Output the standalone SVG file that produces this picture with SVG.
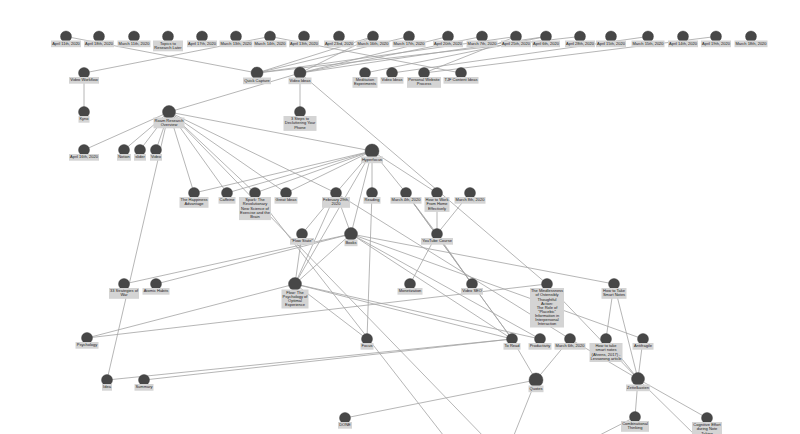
<svg xmlns="http://www.w3.org/2000/svg" width="800" height="434" viewBox="0 0 800 434">
<style>
.e line{stroke:#a3a3a3;stroke-width:0.8;fill:none}
.n circle{fill:#474747;stroke:#3a3a3a;stroke-width:0.4}
.n rect{fill:#d4d4d4}
.n text{font-family:"Liberation Sans",Arial,sans-serif;font-size:4px;fill:#1a1a1a;text-anchor:middle}
</style>
<rect width="800" height="434" fill="#ffffff"/>
<g id="connectors" class="e">
<line x1="66" y1="36.5" x2="257" y2="73"/>
<line x1="84" y1="73" x2="270" y2="36.5"/>
<line x1="84" y1="73" x2="84" y2="112"/>
<line x1="300" y1="73" x2="300" y2="112"/>
<line x1="169" y1="112" x2="300" y2="73"/>
<line x1="300" y1="73" x2="547" y2="284"/>
<line x1="169" y1="112" x2="372" y2="151"/>
<line x1="169" y1="112" x2="84" y2="150"/>
<line x1="169" y1="112" x2="124" y2="150"/>
<line x1="169" y1="112" x2="140" y2="150"/>
<line x1="169" y1="112" x2="156" y2="150"/>
<line x1="169" y1="112" x2="107" y2="380"/>
<line x1="169" y1="112" x2="194" y2="193"/>
<line x1="169" y1="112" x2="227" y2="193"/>
<line x1="169" y1="112" x2="255" y2="193"/>
<line x1="169" y1="112" x2="286" y2="193"/>
<line x1="169" y1="112" x2="336" y2="193"/>
<line x1="169" y1="112" x2="487" y2="440"/>
<line x1="372" y1="151" x2="194" y2="193"/>
<line x1="372" y1="151" x2="227" y2="193"/>
<line x1="372" y1="151" x2="255" y2="193"/>
<line x1="372" y1="151" x2="286" y2="193"/>
<line x1="372" y1="151" x2="336" y2="193"/>
<line x1="372" y1="151" x2="372" y2="193"/>
<line x1="372" y1="151" x2="406" y2="193"/>
<line x1="372" y1="151" x2="437" y2="193"/>
<line x1="372" y1="151" x2="351" y2="234"/>
<line x1="372" y1="151" x2="295" y2="284"/>
<line x1="336" y1="193" x2="302" y2="234"/>
<line x1="336" y1="193" x2="351" y2="234"/>
<line x1="336" y1="193" x2="295" y2="284"/>
<line x1="336" y1="193" x2="570" y2="339"/>
<line x1="372" y1="193" x2="367" y2="339"/>
<line x1="406" y1="193" x2="437" y2="234"/>
<line x1="406" y1="193" x2="472" y2="284"/>
<line x1="406" y1="193" x2="512" y2="339"/>
<line x1="437" y1="193" x2="437" y2="234"/>
<line x1="470" y1="193" x2="437" y2="234"/>
<line x1="437" y1="234" x2="410" y2="284"/>
<line x1="437" y1="234" x2="472" y2="284"/>
<line x1="472" y1="284" x2="512" y2="339"/>
<line x1="351" y1="234" x2="124" y2="284"/>
<line x1="351" y1="234" x2="156" y2="284"/>
<line x1="351" y1="234" x2="295" y2="284"/>
<line x1="351" y1="234" x2="614" y2="284"/>
<line x1="351" y1="234" x2="643" y2="339"/>
<line x1="351" y1="234" x2="512" y2="339"/>
<line x1="351" y1="234" x2="540" y2="339"/>
<line x1="302" y1="234" x2="295" y2="284"/>
<line x1="295" y1="284" x2="87" y2="338"/>
<line x1="295" y1="284" x2="367" y2="339"/>
<line x1="295" y1="284" x2="512" y2="339"/>
<line x1="295" y1="284" x2="540" y2="339"/>
<line x1="87" y1="338" x2="547" y2="284"/>
<line x1="255" y1="193" x2="447" y2="440"/>
<line x1="107" y1="380" x2="512" y2="339"/>
<line x1="144" y1="380" x2="512" y2="339"/>
<line x1="345" y1="418" x2="536" y2="380"/>
<line x1="536" y1="380" x2="512" y2="339"/>
<line x1="536" y1="380" x2="570" y2="339"/>
<line x1="536" y1="380" x2="512" y2="440"/>
<line x1="614" y1="284" x2="606" y2="339"/>
<line x1="614" y1="284" x2="638" y2="379"/>
<line x1="643" y1="339" x2="638" y2="379"/>
<line x1="606" y1="339" x2="638" y2="379"/>
<line x1="570" y1="339" x2="638" y2="379"/>
<line x1="547" y1="284" x2="638" y2="379"/>
<line x1="638" y1="379" x2="635" y2="417"/>
<line x1="638" y1="379" x2="707" y2="418"/>
<line x1="638" y1="379" x2="700" y2="440"/>
<line x1="635" y1="417" x2="590" y2="440"/>
<line x1="257" y1="73" x2="373" y2="36.5"/>
<line x1="257" y1="73" x2="409" y2="36.5"/>
<line x1="257" y1="73" x2="516" y2="36.5"/>
<line x1="257" y1="73" x2="580" y2="36.5"/>
<line x1="300" y1="73" x2="373" y2="36.5"/>
<line x1="300" y1="73" x2="448" y2="36.5"/>
<line x1="300" y1="73" x2="482" y2="36.5"/>
<line x1="300" y1="73" x2="546" y2="36.5"/>
<line x1="365" y1="73" x2="546" y2="36.5"/>
<line x1="392" y1="73" x2="648" y2="36.5"/>
<line x1="424" y1="73" x2="516" y2="36.5"/>
<line x1="424" y1="73" x2="716" y2="36.5"/>
<line x1="461" y1="73" x2="270" y2="36.5"/>
</g>
<g id="node-a11" class="n"><circle cx="66" cy="36.5" r="5.5"/><rect x="51" y="40.5" width="30" height="6.7"/><text x="66" y="44.8">April 11th, 2020</text></g>
<g id="node-a18" class="n"><circle cx="99" cy="36.5" r="5.5"/><rect x="84" y="40.5" width="30" height="6.7"/><text x="99" y="44.8">April 18th, 2020</text></g>
<g id="node-m11" class="n"><circle cx="134" cy="36.5" r="5.5"/><rect x="117.5" y="40.5" width="33" height="6.7"/><text x="134" y="44.8">March 11th, 2020</text></g>
<g id="node-topics" class="n"><circle cx="168" cy="36.5" r="5.5"/><rect x="153" y="40.5" width="30" height="10.8"/><text x="168" y="44.8">Topics to</text><text x="168" y="48.9">Research Later</text></g>
<g id="node-a17" class="n"><circle cx="202" cy="36.5" r="5.5"/><rect x="187" y="40.5" width="30" height="6.7"/><text x="202" y="44.8">April 17th, 2020</text></g>
<g id="node-m13" class="n"><circle cx="236" cy="36.5" r="5.5"/><rect x="219.5" y="40.5" width="33" height="6.7"/><text x="236" y="44.8">March 13th, 2020</text></g>
<g id="node-m14" class="n"><circle cx="270" cy="36.5" r="5.5"/><rect x="253.5" y="40.5" width="33" height="6.7"/><text x="270" y="44.8">March 14th, 2020</text></g>
<g id="node-a13" class="n"><circle cx="304" cy="36.5" r="5.5"/><rect x="289" y="40.5" width="30" height="6.7"/><text x="304" y="44.8">April 13th, 2020</text></g>
<g id="node-a23" class="n"><circle cx="339" cy="36.5" r="5.5"/><rect x="324" y="40.5" width="30" height="6.7"/><text x="339" y="44.8">April 23rd, 2020</text></g>
<g id="node-m16" class="n"><circle cx="373" cy="36.5" r="5.5"/><rect x="356.5" y="40.5" width="33" height="6.7"/><text x="373" y="44.8">March 16th, 2020</text></g>
<g id="node-m17" class="n"><circle cx="409" cy="36.5" r="5.5"/><rect x="392.5" y="40.5" width="33" height="6.7"/><text x="409" y="44.8">March 17th, 2020</text></g>
<g id="node-a20" class="n"><circle cx="448" cy="36.5" r="5.5"/><rect x="433" y="40.5" width="30" height="6.7"/><text x="448" y="44.8">April 20th, 2020</text></g>
<g id="node-m7" class="n"><circle cx="482" cy="36.5" r="5.5"/><rect x="466.5" y="40.5" width="31" height="6.7"/><text x="482" y="44.8">March 7th, 2020</text></g>
<g id="node-a25" class="n"><circle cx="516" cy="36.5" r="5.5"/><rect x="501" y="40.5" width="30" height="6.7"/><text x="516" y="44.8">April 25th, 2020</text></g>
<g id="node-a6" class="n"><circle cx="546" cy="36.5" r="5.5"/><rect x="532" y="40.5" width="28" height="6.7"/><text x="546" y="44.8">April 6th, 2020</text></g>
<g id="node-a28" class="n"><circle cx="580" cy="36.5" r="5.5"/><rect x="565" y="40.5" width="30" height="6.7"/><text x="580" y="44.8">April 28th, 2020</text></g>
<g id="node-a15" class="n"><circle cx="611" cy="36.5" r="5.5"/><rect x="596" y="40.5" width="30" height="6.7"/><text x="611" y="44.8">April 15th, 2020</text></g>
<g id="node-m15" class="n"><circle cx="648" cy="36.5" r="5.5"/><rect x="631.5" y="40.5" width="33" height="6.7"/><text x="648" y="44.8">March 15th, 2020</text></g>
<g id="node-a14" class="n"><circle cx="683" cy="36.5" r="5.5"/><rect x="668" y="40.5" width="30" height="6.7"/><text x="683" y="44.8">April 14th, 2020</text></g>
<g id="node-a19" class="n"><circle cx="716" cy="36.5" r="5.5"/><rect x="701" y="40.5" width="30" height="6.7"/><text x="716" y="44.8">April 19th, 2020</text></g>
<g id="node-m18" class="n"><circle cx="751" cy="36.5" r="5.5"/><rect x="734.5" y="40.5" width="33" height="6.7"/><text x="751" y="44.8">March 18th, 2020</text></g>
<g id="node-vw" class="n"><circle cx="84" cy="73" r="5.5"/><rect x="69" y="77" width="30" height="6.7"/><text x="84" y="81.3">Video Workflow</text></g>
<g id="node-kyno" class="n"><circle cx="84" cy="112" r="5.5"/><rect x="78.5" y="116" width="11" height="6.7"/><text x="84" y="120.3">Kyno</text></g>
<g id="node-qc" class="n"><circle cx="257" cy="73" r="6"/><rect x="243" y="77.5" width="28" height="6.7"/><text x="257" y="81.8">Quick Capture</text></g>
<g id="node-vi" class="n"><circle cx="300" cy="73" r="6"/><rect x="288.5" y="77.5" width="23" height="6.7"/><text x="300" y="81.8">Video Ideas</text></g>
<g id="node-steps" class="n"><circle cx="300" cy="112" r="5.5"/><rect x="283.5" y="116" width="33" height="14.9"/><text x="300" y="120.3">3 Steps to</text><text x="300" y="124.4">Decluttering Your</text><text x="300" y="128.5">Phone</text></g>
<g id="node-med" class="n"><circle cx="365" cy="73" r="5.5"/><rect x="352.5" y="77" width="25" height="10.8"/><text x="365" y="81.3">Meditation</text><text x="365" y="85.4">Experiments</text></g>
<g id="node-vi2" class="n"><circle cx="392" cy="73" r="5.5"/><rect x="380.5" y="77" width="23" height="6.7"/><text x="392" y="81.3">Video Ideas</text></g>
<g id="node-pwp" class="n"><circle cx="424" cy="73" r="5.5"/><rect x="407" y="77" width="34" height="10.8"/><text x="424" y="81.3">Personal Website</text><text x="424" y="85.4">Process</text></g>
<g id="node-tjf" class="n"><circle cx="461" cy="73" r="5.5"/><rect x="443.5" y="77" width="35" height="6.7"/><text x="461" y="81.3">TJF Content Ideas</text></g>
<g id="node-roam" class="n"><circle cx="169" cy="112" r="6.5"/><rect x="153.5" y="117.5" width="31" height="10.8"/><text x="169" y="121.8">Roam Research</text><text x="169" y="125.9">Overview</text></g>
<g id="node-a16" class="n"><circle cx="84" cy="150" r="5.5"/><rect x="69" y="154" width="30" height="6.7"/><text x="84" y="158.3">April 16th, 2020</text></g>
<g id="node-notion" class="n"><circle cx="124" cy="150" r="5.5"/><rect x="117" y="154" width="14" height="6.7"/><text x="124" y="158.3">Notion</text></g>
<g id="node-slider" class="n"><circle cx="140" cy="150" r="5.5"/><rect x="134" y="154" width="12" height="6.7"/><text x="140" y="158.3">slider</text></g>
<g id="node-video" class="n"><circle cx="156" cy="150" r="5.5"/><rect x="150" y="154" width="12" height="6.7"/><text x="156" y="158.3">Video</text></g>
<g id="node-hyper" class="n"><circle cx="372" cy="151" r="7"/><rect x="361" y="156.5" width="22" height="6.7"/><text x="372" y="160.8">Hyperfocus</text></g>
<g id="node-happy" class="n"><circle cx="194" cy="193" r="5.5"/><rect x="179.5" y="197" width="29" height="10.8"/><text x="194" y="201.3">The Happiness</text><text x="194" y="205.4">Advantage</text></g>
<g id="node-caff" class="n"><circle cx="227" cy="193" r="5.5"/><rect x="218.5" y="197" width="17" height="6.7"/><text x="227" y="201.3">Caffeine</text></g>
<g id="node-spark" class="n"><circle cx="255" cy="193" r="5.5"/><rect x="239" y="197" width="32" height="23.1"/><text x="255" y="201.3">Spark: The</text><text x="255" y="205.4">Revolutionary</text><text x="255" y="209.5">New Science of</text><text x="255" y="213.6">Exercise and the</text><text x="255" y="217.7">Brain</text></g>
<g id="node-great" class="n"><circle cx="286" cy="193" r="5.5"/><rect x="274.5" y="197" width="23" height="6.7"/><text x="286" y="201.3">Great Ideas</text></g>
<g id="node-feb29" class="n"><circle cx="336" cy="193" r="5.5"/><rect x="322" y="197" width="28" height="10.8"/><text x="336" y="201.3">February 29th,</text><text x="336" y="205.4">2020</text></g>
<g id="node-reading" class="n"><circle cx="372" cy="193" r="5.5"/><rect x="363.5" y="197" width="17" height="6.7"/><text x="372" y="201.3">Reading</text></g>
<g id="node-m4" class="n"><circle cx="406" cy="193" r="5.5"/><rect x="390.5" y="197" width="31" height="6.7"/><text x="406" y="201.3">March 4th, 2020</text></g>
<g id="node-wfh" class="n"><circle cx="437" cy="193" r="5.5"/><rect x="424.5" y="197" width="25" height="14.9"/><text x="437" y="201.3">How to Work</text><text x="437" y="205.4">From Home</text><text x="437" y="209.5">Effectively</text></g>
<g id="node-m8" class="n"><circle cx="470" cy="193" r="5.5"/><rect x="454.5" y="197" width="31" height="6.7"/><text x="470" y="201.3">March 8th, 2020</text></g>
<g id="node-flowstate" class="n"><circle cx="302" cy="234" r="5.5"/><rect x="290" y="238" width="24" height="6.7"/><text x="302" y="242.3">"Flow State"</text></g>
<g id="node-books" class="n"><circle cx="351" cy="234" r="6.5"/><rect x="344.5" y="239.5" width="13" height="6.7"/><text x="351" y="243.8">Books</text></g>
<g id="node-yt" class="n"><circle cx="437" cy="234" r="5.5"/><rect x="421" y="238" width="32" height="6.7"/><text x="437" y="242.3">YouTube Course</text></g>
<g id="node-war" class="n"><circle cx="124" cy="284" r="5.5"/><rect x="109" y="288" width="30" height="10.8"/><text x="124" y="292.3">33 Strategies of</text><text x="124" y="296.4">War</text></g>
<g id="node-atomic" class="n"><circle cx="156" cy="284" r="5.5"/><rect x="142.5" y="288" width="27" height="6.7"/><text x="156" y="292.3">Atomic Habits</text></g>
<g id="node-flow" class="n"><circle cx="295" cy="284" r="6.5"/><rect x="281.5" y="289.5" width="27" height="19"/><text x="295" y="293.8">Flow: The</text><text x="295" y="297.9">Psychology of</text><text x="295" y="302">Optimal</text><text x="295" y="306.1">Experience</text></g>
<g id="node-monet" class="n"><circle cx="410" cy="284" r="5.5"/><rect x="397.5" y="288" width="25" height="6.7"/><text x="410" y="292.3">Monetization</text></g>
<g id="node-seo" class="n"><circle cx="472" cy="284" r="5.5"/><rect x="461" y="288" width="22" height="6.7"/><text x="472" y="292.3">Video SEO</text></g>
<g id="node-mind" class="n"><circle cx="547" cy="284" r="5.5"/><rect x="530" y="288" width="34" height="39.5"/><text x="547" y="292.3">The Mindlessness</text><text x="547" y="296.4">of Ostensibly</text><text x="547" y="300.5">Thoughtful</text><text x="547" y="304.6">Action:</text><text x="547" y="308.7">The Role of</text><text x="547" y="312.8">"Placebic"</text><text x="547" y="316.9">Information in</text><text x="547" y="321">Interpersonal</text><text x="547" y="325.1">Interaction</text></g>
<g id="node-smart" class="n"><circle cx="614" cy="284" r="5.5"/><rect x="601.5" y="288" width="25" height="10.8"/><text x="614" y="292.3">How to Take</text><text x="614" y="296.4">Smart Notes</text></g>
<g id="node-psych" class="n"><circle cx="87" cy="338" r="5.5"/><rect x="75.5" y="342" width="23" height="6.7"/><text x="87" y="346.3">Psychology</text></g>
<g id="node-focus" class="n"><circle cx="367" cy="339" r="5.5"/><rect x="360.5" y="343" width="13" height="6.7"/><text x="367" y="347.3">Focus</text></g>
<g id="node-toread" class="n"><circle cx="512" cy="339" r="5.5"/><rect x="503.5" y="343" width="17" height="6.7"/><text x="512" y="347.3">To Read</text></g>
<g id="node-prod" class="n"><circle cx="540" cy="339" r="5.5"/><rect x="528.5" y="343" width="23" height="6.7"/><text x="540" y="347.3">Productivity</text></g>
<g id="node-m6" class="n"><circle cx="570" cy="339" r="5.5"/><rect x="554.5" y="343" width="31" height="6.7"/><text x="570" y="347.3">March 6th, 2020</text></g>
<g id="node-lw" class="n"><circle cx="606" cy="339" r="5.5"/><rect x="589.5" y="343" width="33" height="19"/><text x="606" y="347.3">How to take</text><text x="606" y="351.4">smart notes</text><text x="606" y="355.5">(Ahrens, 2017) -</text><text x="606" y="359.6">Lesswrong article</text></g>
<g id="node-anti" class="n"><circle cx="643" cy="339" r="5.5"/><rect x="632.5" y="343" width="21" height="6.7"/><text x="643" y="347.3">Antifragile</text></g>
<g id="node-zk" class="n"><circle cx="638" cy="379" r="6.5"/><rect x="626" y="384.5" width="24" height="6.7"/><text x="638" y="388.8">Zettelkasten</text></g>
<g id="node-quotes" class="n"><circle cx="536" cy="380" r="7"/><rect x="528.5" y="385.5" width="15" height="6.7"/><text x="536" y="389.8">Quotes</text></g>
<g id="node-idea" class="n"><circle cx="107" cy="380" r="5.5"/><rect x="102" y="384" width="10" height="6.7"/><text x="107" y="388.3">Idea</text></g>
<g id="node-summary" class="n"><circle cx="144" cy="380" r="5.5"/><rect x="134.5" y="384" width="19" height="6.7"/><text x="144" y="388.3">Summary</text></g>
<g id="node-done" class="n"><circle cx="345" cy="418" r="5.5"/><rect x="338" y="422" width="14" height="6.7"/><text x="345" y="426.3">DONE</text></g>
<g id="node-comb" class="n"><circle cx="635" cy="417" r="5.5"/><rect x="621" y="421" width="28" height="10.8"/><text x="635" y="425.3">Combinational</text><text x="635" y="429.4">Thinking</text></g>
<g id="node-cog" class="n"><circle cx="707" cy="418" r="5.5"/><rect x="692" y="422" width="30" height="14.9"/><text x="707" y="426.3">Cognitive Effort</text><text x="707" y="430.4">during Note</text><text x="707" y="434.5">Taking</text></g>
</svg>
